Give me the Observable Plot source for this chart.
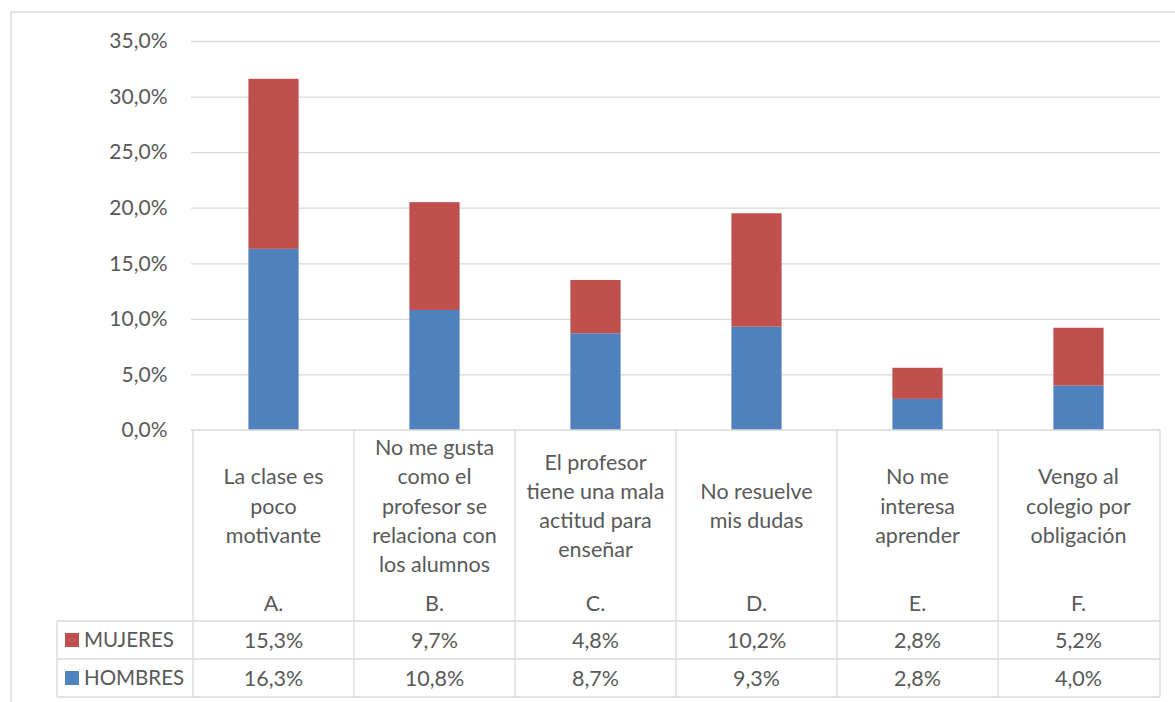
<!DOCTYPE html>
<html>
<head>
<meta charset="utf-8">
<script src="https://cdn.jsdelivr.net/npm/d3@7"></script>
<script src="https://cdn.jsdelivr.net/npm/@observablehq/plot@0.6"></script>
<style>
  html, body { margin: 0; padding: 0; background: #fff; }
  #chart svg { display: block; }
</style>
</head>
<body>
<div id="chart"></div>
<script>
// ---- data ----
const categories = ["A.", "B.", "C.", "D.", "E.", "F."];
const categoryLabels = [
  "La clase es\npoco\nmotivante",
  "No me gusta\ncomo el\nprofesor se\nrelaciona con\nlos alumnos",
  "El profesor\ntiene una mala\nactitud para\nenseñar",
  "No resuelve\nmis dudas",
  "No me\ninteresa\naprender",
  "Vengo al\ncolegio por\nobligación"
];
const seriesNames = ["MUJERES", "HOMBRES"];
const mujeres = [15.3, 9.7, 4.8, 10.2, 2.8, 5.2];
const hombres = [16.3, 10.8, 8.7, 9.3, 2.8, 4.0];
const yTicks = [0, 5, 10, 15, 20, 25, 30, 35];
const colors = {MUJERES: "#C0504D", HOMBRES: "#4F81BD"};

// ---- derived table ----
const rows = [];
categories.forEach((c, i) => {
  rows.push({cat: c, serie: "HOMBRES", value: hombres[i]});
  rows.push({cat: c, serie: "MUJERES", value: mujeres[i]});
});
const fmt = v => v.toFixed(1).replace(".", ",") + "%";

const W = 1175, H = 702;
const mL = 191, mR = 15, mT = 41, mB = 272;
const FONT = "Lato, 'Open Sans', sans-serif";
const TXT = "#595959";
const LINE = "#d9d9d9";

// table overlay drawn from the plot's own scales
function tableMark(index, scales, values, dims) {
  const x = scales.x;
  const bw = x.bandwidth();
  const y0 = dims.height - dims.marginBottom; // 0% baseline
  const left = dims.marginLeft, right = dims.width - dims.marginRight;
  const rowTop = y0 + 191, rowH = 38;
  const legendLeft = 57;
  const g = d3.create("svg:g").attr("fill", "none").attr("stroke", LINE).attr("stroke-width", 1.3);
  // outer chart border (top + left)
  g.append("line").attr("x1", 11).attr("x2", dims.width).attr("y1", 12).attr("y2", 12);
  g.append("line").attr("x1", 11).attr("x2", 11).attr("y1", 12).attr("y2", dims.height);
  // header top
  g.append("line").attr("x1", left).attr("x2", right).attr("y1", y0).attr("y2", y0);
  // row lines
  for (let k = 0; k <= 2; k++) {
    const yy = rowTop + k * rowH;
    g.append("line").attr("x1", legendLeft).attr("x2", right).attr("y1", yy).attr("y2", yy);
  }
  // vertical lines
  categories.forEach((c, i) => {
    const xx = x(c);
    g.append("line").attr("x1", xx).attr("x2", xx).attr("y1", y0).attr("y2", rowTop + 2 * rowH);
  });
  g.append("line").attr("x1", right).attr("x2", right).attr("y1", y0).attr("y2", rowTop + 2 * rowH);
  g.append("line").attr("x1", legendLeft).attr("x2", legendLeft).attr("y1", rowTop).attr("y2", rowTop + 2 * rowH);

  const t = d3.create("svg:g").attr("font-family", FONT).attr("font-size", 21.5).attr("fill", TXT).attr("text-anchor", "middle");
  // category labels
  categories.forEach((c, i) => {
    const cx = x(c) + bw / 2;
    const lines = categoryLabels[i].split("\n");
    const lh = 29.2;
    const midY = y0 + 76;
    const txt = t.append("text").attr("x", cx);
    lines.forEach((ln, j) => {
      txt.append("tspan").attr("x", cx).attr("y", midY + (j - (lines.length - 1) / 2) * lh).attr("dy", "0.35em").text(ln);
    });
    t.append("text").attr("x", cx).attr("y", y0 + 173).attr("dy", "0.35em").text(c);
    // values
    t.append("text").attr("x", cx).attr("y", rowTop + rowH / 2).attr("dy", "0.35em").text(fmt(mujeres[i]));
    t.append("text").attr("x", cx).attr("y", rowTop + rowH * 1.5).attr("dy", "0.35em").text(fmt(hombres[i]));
  });
  // legend keys
  seriesNames.forEach((s, k) => {
    const cy = rowTop + rowH * (k + 0.5);
    t.append("rect").attr("x", 65).attr("y", cy - 7).attr("width", 14).attr("height", 14).attr("fill", colors[s]);
    t.append("text").attr("x", 84).attr("y", cy).attr("dy", "0.35em").attr("text-anchor", "start").attr("font-size", 20.5).text(s);
  });
  const root = d3.create("svg:g");
  root.append(() => g.node());
  root.append(() => t.node());
  return root.node();
}

const plot = Plot.plot({
  width: W,
  height: H,
  marginLeft: mL,
  marginRight: mR,
  marginTop: mT,
  marginBottom: mB,
  style: {fontFamily: FONT, fontSize: "21px", color: TXT, background: "#fff"},
  x: {domain: categories, padding: 0, axis: null},
  y: {domain: [0, 35], axis: null},
  color: {domain: seriesNames, range: [colors.MUJERES, colors.HOMBRES]},
  marks: [
    Plot.gridY(yTicks.filter(d => d > 0), {stroke: LINE, strokeOpacity: 1, strokeWidth: 1.3}),
    Plot.axisY(yTicks, {tickSize: 0, tickPadding: 24, tickFormat: fmt, fontSize: 21, fill: TXT, label: null}),
    Plot.barY(rows, Plot.stackY({
      x: "cat",
      y: "value",
      fill: "serie",
      order: ["HOMBRES", "MUJERES"],
      insetLeft: 55.4,
      insetRight: 55.4
    })),
    tableMark
  ]
});
document.getElementById("chart").appendChild(plot);
</script>
</body>
</html>
